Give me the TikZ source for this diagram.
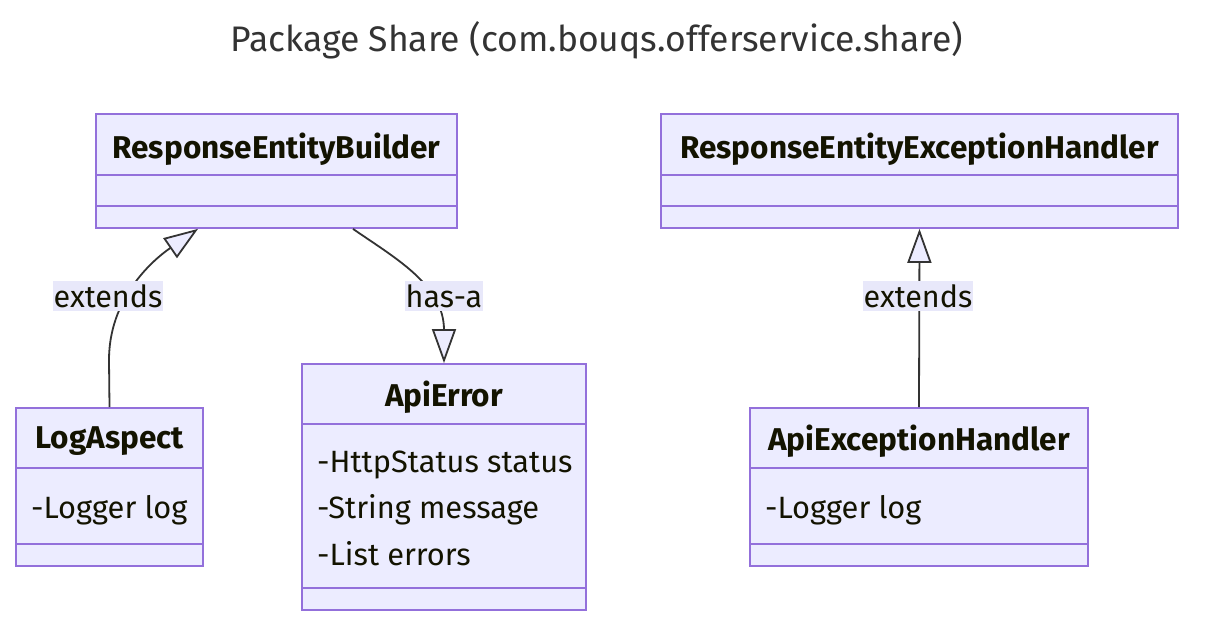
\documentclass[tikz,border=0pt]{standalone}
\usepackage{fontspec}
\setmainfont{Fira Sans}
\usetikzlibrary{arrows.meta}
\definecolor{boxfill}{HTML}{ECECFF}
\definecolor{boxline}{HTML}{9370DB}
\definecolor{txt}{HTML}{131300}
\definecolor{edgec}{HTML}{333333}
\definecolor{lblbg}{HTML}{E8E8FA}
\tikzset{
  cls/.style={draw=boxline, fill=boxfill, line width=1.8pt, inner sep=0pt, rectangle},
  divider/.style={draw=boxline, line width=1.8pt},
  cname/.style={text=txt, font=\fontsize{31.5}{36}\selectfont\bfseries, inner sep=0pt, anchor=center},
  attr/.style={text=txt, font=\fontsize{30.8}{36}\selectfont, inner sep=0pt, anchor=west},
  edge/.style={draw=edgec, line width=1.8pt},
  hollow/.style={-{Triangle[length=34pt,width=24pt,fill=boxfill,line width=1.8pt]}},
  elabel/.style={fill=lblbg, text=txt, font=\fontsize{30.5}{36}\selectfont, inner xsep=1pt, inner ysep=3pt},
}
\begin{document}
\begin{tikzpicture}[x=1pt,y=-1pt]
\useasboundingbox (0,0) rectangle (1210,634);
\node[text=edgec, font=\fontsize{35.5}{40}\selectfont] (title) at (597,40) {Package Share (com.bouqs.offerservice.share)};

% ResponseEntityBuilder
\node[cls, minimum width=361pt, minimum height=114pt] (reb) at (276.5,171) {};
\draw[divider] (96,175) -- (457,175);
\draw[divider] (96,206) -- (457,206);
\node[cname] (rebn) at (276.5,149) {ResponseEntityBuilder};

% ResponseEntityExceptionHandler
\node[cls, minimum width=517pt, minimum height=114pt] (reeh) at (919.5,171) {};
\draw[divider] (661,175) -- (1178,175);
\draw[divider] (661,206) -- (1178,206);
\node[cname] (reehn) at (919.5,149) {ResponseEntityExceptionHandler};

% LogAspect
\node[cls, minimum width=187pt, minimum height=158pt] (la) at (109.5,487) {};
\draw[divider] (16,468) -- (203,468);
\draw[divider] (16,544) -- (203,544);
\node[cname] (lan) at (109.5,441) {LogAspect};
\node[attr] (la1) at (31,510) {-Logger log};

% ApiError
\node[cls, minimum width=284pt, minimum height=246pt] (ae) at (444,487) {};
\draw[divider] (302,424) -- (586,424);
\draw[divider] (302,588) -- (586,588);
\node[cname] (aen) at (444,397) {ApiError};
\node[attr] (ae1) at (317,465) {-HttpStatus status};
\node[attr] (ae2) at (317,510) {-String message};
\node[attr] (ae3) at (317,554) {-List errors};

% ApiExceptionHandler
\node[cls, minimum width=338pt, minimum height=158pt] (aeh) at (919,487) {};
\draw[divider] (750,468) -- (1088,468);
\draw[divider] (750,544) -- (1088,544);
\node[cname] (aehn) at (919,441) {ApiExceptionHandler};
\node[attr] (aeh1) at (765,510) {-Logger log};

% edges
\coordinate (c1) at ([xshift=-78.5pt]reb.south);
\coordinate (c2) at ([xshift=76.5pt]reb.south);
\draw[edge, hollow] (la.north) -- (109,360) .. controls (109,300) and (150,262) .. (c1);
\draw[edge, hollow] (c2) .. controls (395,258) and (444,285) .. (444,330) -- (ae.north);
\draw[edge, hollow] (aeh.north) -- (reeh.south);

\node[elabel] (l1) at (108,296) {extends};
\node[elabel] (l2) at (444,296) {has-a};
\node[elabel] (l3) at (918,296) {extends};
\end{tikzpicture}
\end{document}
